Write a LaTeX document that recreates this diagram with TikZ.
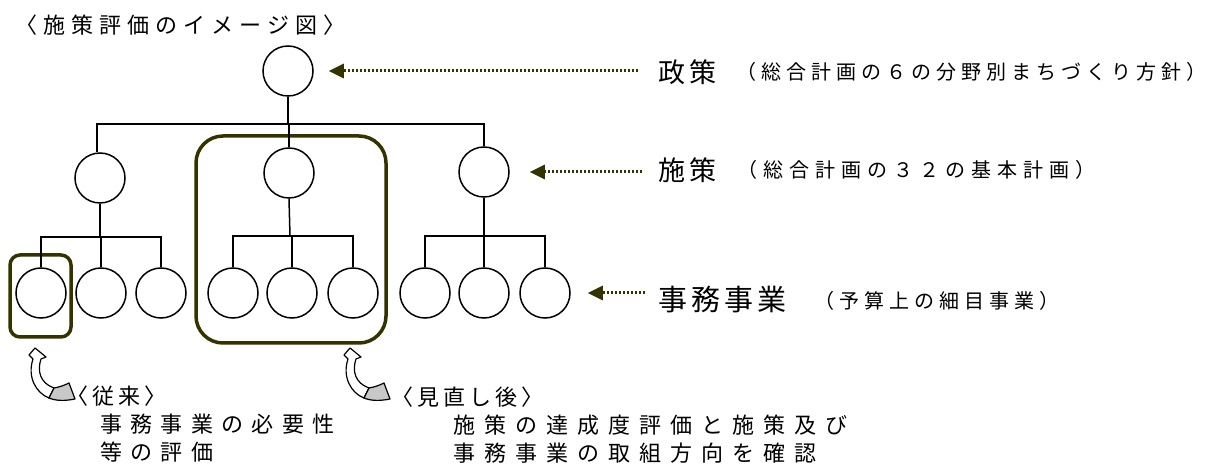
\documentclass[tikz,border=0pt]{standalone}
\usepackage{fontspec}
\setmainfont{Noto Sans CJK JP}
\usetikzlibrary{arrows.meta,calc}
\definecolor{olive}{RGB}{51,51,0}
\definecolor{tailgray}{RGB}{200,200,200}
\newcommand\lsp[2]{\def\lspcell{#1}\lsploop#2\lspend}
\def\lspend{LSPEND}
\def\lsploop#1{\ifx#1\lspend\else\makebox[\lspcell][c]{#1}\expandafter\lsploop\fi}
\tikzset{
  circ/.style={circle,draw=black,line width=1.5pt,minimum size=50pt,inner sep=0pt},
  conn/.style={line width=1.5pt,draw=black},
  grp/.style={draw=olive,line width=3.5pt},
  dotarrow/.style={draw=olive,line width=3pt,dash pattern=on 2pt off 2pt,
    -{Triangle[length=15pt,width=14pt,fill=olive]}},
  txt/.style={anchor=west,inner sep=0pt,text=black},
  curlarrow/.pic={
    \filldraw[fill=white,draw=black,line width=1.2pt,line join=round]
      (-1,6) -- (5,-1) -- (16,8) -- (11,10)
      .. controls (7,22) and (10,34) .. (24,39)
      -- (19,49)
      .. controls (6,44) and (-3,28) .. (3,10) -- cycle;
    \filldraw[fill=tailgray,draw=black,line width=1.2pt,line join=round]
      (24,39) .. controls (30,38) and (35,36) .. (39,34)
      -- (45,50)
      .. controls (35,52) and (26,52) .. (19,49) -- cycle;
  }
}
\begin{document}
\begin{tikzpicture}[x=1pt,y=-1pt]
\useasboundingbox (0,0) rectangle (1211,470);
% group boxes
\draw[grp,rounded corners=27pt] (196,136) rectangle (386,343);
\draw[grp,rounded corners=10pt] (10,255) rectangle (71,337);
% circles
\node[circ] (c0) at (288,71) {};
\node[circ] (a1) at (100,178) {};
\node[circ] (a2) at (289,173) {};
\node[circ] (a3) at (484,172) {};
\node[circ] (b1) at (41,293) {};
\node[circ] (b2) at (101,293) {};
\node[circ] (b3) at (161,293) {};
\node[circ] (b4) at (233,293) {};
\node[circ] (b5) at (292,293) {};
\node[circ] (b6) at (353,293) {};
\node[circ] (b7) at (425,293) {};
\node[circ] (b8) at (484,293) {};
\node[circ] (b9) at (545,293) {};
% junctions
\coordinate (j0) at (288,124);
\coordinate (j1) at (101,237);
\coordinate (j2) at (290,236);
\coordinate (j3) at (484,236);
% connectors
\draw[conn] (c0.south) -- (j0);
\draw[conn] ([xshift=-3pt]a1.north) -- ([xshift=-3pt]a1.north |- j0) -- (a3.north |- j0) -- (a3.north);
\draw[conn] (a2.north) -- (a2.north |- j0);
\draw[conn] (a1.south) -- (a1.south |- j1);
\draw[conn] (b1.north) -- (b1.north |- j1) -- (b3.north |- j1) -- (b3.north);
\draw[conn] (b2.north) -- (b2.north |- j1);
\draw[conn] (a2.south) -- (j2);
\draw[conn] (b4.north) -- (b4.north |- j2) -- (b6.north |- j2) -- (b6.north);
\draw[conn] (b5.north) -- (b5.north |- j2);
\draw[conn] (a3.south) -- (j3);
\draw[conn] (b7.north) -- (b7.north |- j3) -- (b9.north |- j3) -- (b9.north);
\draw[conn] (b8.north) -- (b8.north |- j3);
% texts
\node[txt] (title) at (12,25) {\fontsize{22}{26}\selectfont\lsp{28pt}{〈施策評価のイメージ図〉}};
\node[txt] (l1) at (656,72) {\fontsize{27}{32}\selectfont\lsp{31pt}{政策}};
\node[txt] (l1s) at (734,72) {\fontsize{20}{24}\selectfont\lsp{25pt}{（総合計画の６の分野別まちづくり方針）}};
\node[txt] (l2) at (656,170) {\fontsize{27}{32}\selectfont\lsp{31pt}{施策}};
\node[txt] (l2s) at (734,170) {\fontsize{20}{24}\selectfont\lsp{26pt}{（総合計画の３２の基本計画）}};
\node[txt] (l3) at (656,300) {\fontsize{29}{34}\selectfont\lsp{33pt}{事務事業}};
\node[txt] (l3s) at (812,301) {\fontsize{20}{24}\selectfont\lsp{25pt}{（予算上の細目事業）}};
\node[txt] (t1) at (64,396) {\fontsize{22}{26}\selectfont\lsp{26pt}{〈従来〉}};
\node[txt] (t2) at (96,424) {\fontsize{22}{26}\selectfont\lsp{30.3pt}{事務事業の必要性}};
\node[txt] (t3) at (96,452) {\fontsize{22}{26}\selectfont\lsp{30.3pt}{等の評価}};
\node[txt] (t4) at (389,397) {\fontsize{22}{26}\selectfont\lsp{26pt}{〈見直し後〉}};
\node[txt] (t5) at (449,425) {\fontsize{22}{26}\selectfont\lsp{31pt}{施策の達成度評価と施策及び}};
\node[txt] (t6) at (449,453) {\fontsize{22}{26}\selectfont\lsp{31pt}{事務事業の取組方向を確認}};
% dotted arrows
\draw[dotarrow,shorten >=15pt] ($(l1.west |- c0)+(-18,0)$) -- (c0);
\draw[dotarrow,shorten >=20pt] ($(l2.west |- a3)+(-14,0)$) -- (a3);
\draw[dotarrow,shorten >=17pt] ($(l3.west |- b9)+(-11,0)$) -- (b9);
% curved arrows
\pic at (30,349) {curlarrow};
\pic at (345,349) {curlarrow};
\end{tikzpicture}
\end{document}
